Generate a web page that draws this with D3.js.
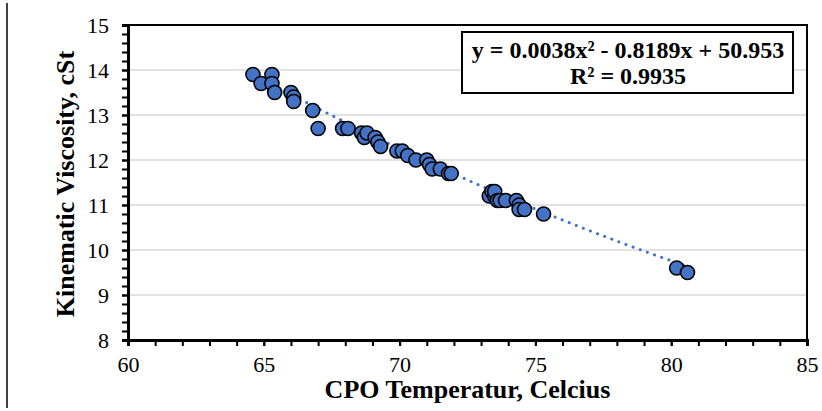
<!DOCTYPE html>
<html>
<head>
<meta charset="utf-8">
<script src="https://cdn.jsdelivr.net/npm/d3@7"></script>
<style>
  body { margin: 0; background: #fff; }
  svg text { font-family: "Liberation Serif", "Times New Roman", serif; fill: #000; }
</style>
</head>
<body>
<div id="chart"></div>
<script>
// Data
const temperature = [64.6, 65.3, 64.9, 65.3, 65.4, 66.0, 66.1, 66.1, 66.8, 67.0,
  67.9, 68.1, 68.6, 68.7, 68.8, 69.1, 69.2, 69.3, 69.9, 70.1,
  70.3, 70.6, 71.0, 71.1, 71.2, 71.5, 71.8, 71.9, 73.3, 73.4,
  73.5, 73.5, 73.6, 73.7, 73.9, 74.3, 74.4, 74.4, 74.6, 75.3,
  80.2, 80.6];
const viscosity = [13.9, 13.9, 13.7, 13.7, 13.5, 13.5, 13.4, 13.3, 13.1, 12.7,
  12.7, 12.7, 12.6, 12.5, 12.6, 12.5, 12.4, 12.3, 12.2, 12.2,
  12.1, 12.0, 12.0, 11.9, 11.8, 11.8, 11.7, 11.7, 11.2, 11.3,
  11.2, 11.3, 11.1, 11.1, 11.1, 11.1, 11.0, 10.9, 10.9, 10.8,
  9.6, 9.5];
// trend line coefficients (a x^2 + b x + c) as printed on the chart
const trendCoef = [0.0038, -0.8189, 50.953];
const xTicks = [60, 65, 70, 75, 80, 85];
const yTicks = [8, 9, 10, 11, 12, 13, 14, 15];
const legendLines = ["y = 0.0038x\u00B2 - 0.8189x + 50.953", "R\u00B2 = 0.9935"];
const labelX = "CPO Temperatur, Celcius";
const labelY = "Kinematic Viscosity, cSt";

const svg_width = 822, svg_height = 411;
const margin = { top: 25, right: 15, bottom: 71, left: 128 };
const pointColor = "#4472C4";

const svg = d3.select("#chart").append("svg")
  .attr("width", svg_width)
  .attr("height", svg_height);

var x = d3.scaleLinear().domain([60, 85]).range([margin.left, svg_width - margin.right]);
var y = d3.scaleLinear().domain([8, 15]).range([svg_height - margin.bottom, margin.top]);

// stray page border line at the far left
svg.append("line")
  .attr("x1", 7).attr("x2", 7).attr("y1", 3).attr("y2", 408)
  .attr("stroke", "#000").attr("stroke-width", 1.5);

// gridlines
svg.append("g")
  .selectAll("line")
  .data(yTicks.filter(d => d > 8 && d < 15))
  .enter()
  .append("line")
  .attr("x1", x(60)).attr("x2", x(85))
  .attr("y1", d => y(d)).attr("y2", d => y(d))
  .attr("stroke", "#d9d9d9").attr("stroke-width", 1.5);

// plot frame top / right
svg.append("path")
  .attr("d", `M${x(60)},${y(15)}H${x(85)}V${y(8)}`)
  .attr("fill", "none").attr("stroke", "#000").attr("stroke-width", 2);

// trend line (round dots)
const trendX = d3.range(64.6, 80.65, 0.1);
const trend = d3.line()
  .x(d => x(d))
  .y(d => y(trendCoef[0] * d * d + trendCoef[1] * d + trendCoef[2]));
svg.append("path")
  .datum(trendX)
  .attr("d", trend)
  .attr("fill", "none")
  .attr("stroke", pointColor)
  .attr("stroke-width", 3)
  .attr("stroke-dasharray", "0.1,7.5")
  .attr("stroke-linecap", "round");

// points
svg.append("g")
  .selectAll("circle")
  .data(temperature.map((t, i) => [t, viscosity[i]]))
  .enter()
  .append("circle")
  .attr("cx", d => x(d[0]))
  .attr("cy", d => y(d[1]))
  .attr("r", 7)
  .attr("fill", pointColor)
  .attr("stroke", "#000")
  .attr("stroke-width", 1.6);

// axes
const xAxisMinor = svg.append("g")
  .attr("transform", "translate(0," + y(8) + ")")
  .call(d3.axisBottom(x).tickValues(d3.range(60, 86, 1)).tickSize(6).tickFormat(""));
const xAxis = svg.append("g")
  .attr("transform", "translate(0," + y(8) + ")")
  .call(d3.axisBottom(x).tickValues(xTicks).tickSize(6).tickPadding(10));
const yAxisMinor = svg.append("g")
  .attr("transform", "translate(" + x(60) + ",0)")
  .call(d3.axisLeft(y).tickValues(d3.range(8, 15.01, 0.2)).tickSize(6).tickFormat(""));
const yAxis = svg.append("g")
  .attr("transform", "translate(" + x(60) + ",0)")
  .call(d3.axisLeft(y).tickValues(yTicks).tickSize(6).tickPadding(13).tickFormat(d3.format("d")));

[xAxisMinor, xAxis, yAxisMinor, yAxis].forEach(g => {
  g.selectAll("line").attr("stroke", "#000").attr("stroke-width", 2);
  g.select(".domain").attr("stroke", "#000").attr("stroke-width", 3);
});
xAxis.selectAll("text").style("font-size", "22px");
yAxis.selectAll("text").style("font-size", "22px");

// axis titles
svg.append("text")
  .attr("x", (x(60) + x(85)) / 2)
  .attr("y", 398)
  .attr("text-anchor", "middle")
  .style("font-size", "26px")
  .style("font-weight", "bold")
  .text(labelX);

svg.append("text")
  .attr("transform", "translate(74,184) rotate(-90)")
  .attr("text-anchor", "middle")
  .style("font-size", "26px")
  .style("font-weight", "bold")
  .text(labelY);

// trendline label box
const legend = svg.append("g");
legend.append("rect")
  .attr("x", 462).attr("y", 32)
  .attr("width", 331).attr("height", 61)
  .attr("fill", "#fff")
  .attr("stroke", "#000").attr("stroke-width", 2);
legend.selectAll("text")
  .data(legendLines)
  .enter()
  .append("text")
  .attr("x", 628)
  .attr("y", (d, i) => 58 + i * 26)
  .attr("text-anchor", "middle")
  .style("font-size", "24px")
  .style("font-weight", "bold")
  .text(d => d);
</script>
</body>
</html>
